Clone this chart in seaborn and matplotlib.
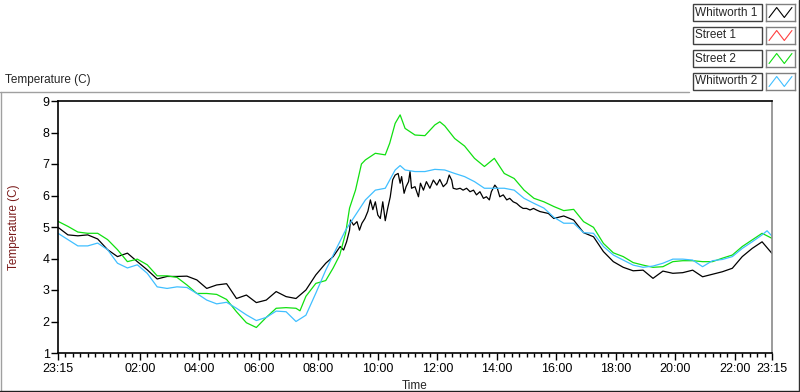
import matplotlib
matplotlib.use('Agg')
import matplotlib.pyplot as plt
from matplotlib.lines import Line2D
from matplotlib.patches import Rectangle
import pandas as pd
import seaborn as sns

# time axis is minutes after 23:15 (logging day runs 23:15 -> 23:15)
tick_minutes = [0, 165, 285, 405, 525, 645, 765, 885, 1005, 1125, 1245, 1365, 1440]
tick_labels = ['23:15', '02:00', '04:00', '06:00', '08:00', '10:00', '12:00',
               '14:00', '16:00', '18:00', '20:00', '22:00', '23:15']

series_names = ['Whitworth 1', 'Street 1', 'Street 2', 'Whitworth 2']
series_colors = ['#000000', '#ff4040', '#10e010', '#40bfff']

whitworth1_min = [0, 20, 40, 60, 80, 100, 120, 140, 160, 180, 200, 220, 240, 260, 280,
                  300, 320, 340, 360, 380, 400, 420, 440, 460, 480, 500, 520, 540, 555,
                  569, 576, 582, 588, 590, 596, 603, 608, 613, 619, 625, 630, 635, 640,
                  645, 650, 655, 660, 665, 670, 675, 680, 686, 690, 693, 698, 702, 707,
                  710, 713, 720, 727, 731, 737, 743, 750, 757, 764, 770, 777, 784, 789,
                  794, 797, 804, 811, 817, 824, 831, 838, 844, 851, 858, 864, 870, 874,
                  881, 886, 891, 898, 905, 911, 918, 925, 932, 938, 945, 952, 959, 965,
                  972, 989, 1000, 1020, 1040, 1060, 1080, 1100, 1120, 1140, 1160, 1180,
                  1200, 1220, 1240, 1260, 1280, 1300, 1320, 1340, 1360, 1380, 1400, 1420,
                  1440]
whitworth1_temp = [4.99, 4.75, 4.72, 4.75, 4.62, 4.28, 4.06, 4.17, 3.90, 3.64, 3.35, 3.43,
                   3.43, 3.44, 3.32, 3.05, 3.16, 3.20, 2.73, 2.84, 2.60, 2.68, 2.95, 2.79,
                   2.73, 3.00, 3.48, 3.85, 4.06, 4.38, 4.27, 4.53, 4.90, 5.22, 5.06, 5.17,
                   4.90, 5.12, 5.27, 5.50, 5.86, 5.55, 5.80, 5.38, 5.27, 5.80, 5.20, 5.60,
                   5.95, 6.50, 6.65, 6.70, 6.39, 6.60, 6.07, 6.28, 6.44, 6.76, 6.23, 6.28,
                   5.96, 6.39, 6.17, 6.44, 6.23, 6.49, 6.33, 6.51, 6.28, 6.39, 6.65, 6.49,
                   6.23, 6.20, 6.23, 6.17, 6.23, 6.12, 6.17, 6.02, 6.12, 5.91, 5.96, 5.86,
                   6.12, 6.33, 6.23, 5.96, 6.02, 5.86, 5.91, 5.80, 5.75, 5.65, 5.59, 5.59,
                   5.54, 5.59, 5.54, 5.49, 5.43, 5.27, 5.35, 5.22, 4.82, 4.69, 4.22, 3.90,
                   3.72, 3.61, 3.63, 3.37, 3.60, 3.53, 3.55, 3.63, 3.42, 3.50, 3.58, 3.69,
                   4.06, 4.32, 4.53, 4.16]

# Street 1 logged nothing that day, only its legend entry shows
street1_min = []
street1_temp = []

street2_min = [0, 20, 40, 60, 80, 100, 120, 140, 160, 180, 200, 220, 240, 260, 280, 300,
               320, 340, 360, 380, 400, 420, 440, 460, 480, 488, 500, 520, 540, 555, 568,
               580, 588, 600, 612, 620, 640, 660, 669, 680, 690, 700, 720, 740, 760, 770,
               780, 800, 820, 840, 860, 880, 900, 920, 940, 960, 980, 1000, 1020, 1040,
               1060, 1080, 1100, 1120, 1140, 1160, 1180, 1200, 1220, 1240, 1260, 1280,
               1300, 1320, 1340, 1360, 1380, 1400, 1420, 1440]
street2_temp = [5.18, 5.02, 4.84, 4.80, 4.80, 4.60, 4.28, 3.90, 3.98, 3.80, 3.45, 3.45,
                3.40, 3.16, 2.89, 2.89, 2.86, 2.70, 2.31, 1.96, 1.81, 2.13, 2.42, 2.44,
                2.42, 2.34, 2.80, 3.21, 3.30, 3.70, 4.10, 4.80, 5.60, 6.17, 7.00, 7.13,
                7.34, 7.29, 7.66, 8.29, 8.56, 8.13, 7.92, 7.90, 8.24, 8.34, 8.21, 7.81,
                7.57, 7.18, 6.92, 7.18, 6.70, 6.54, 6.17, 5.91, 5.80, 5.65, 5.52, 5.56,
                5.17, 4.99, 4.48, 4.18, 4.06, 3.87, 3.79, 3.72, 3.74, 3.90, 3.93, 3.93,
                3.90, 3.90, 4.01, 4.11, 4.38, 4.59, 4.80, 4.64]

whitworth2_min = [0, 20, 40, 60, 80, 100, 120, 140, 160, 180, 200, 220, 240, 260, 280,
                  300, 320, 340, 360, 380, 400, 420, 440, 460, 480, 500, 520, 540, 560,
                  580, 600, 620, 640, 660, 680, 690, 700, 720, 740, 760, 780, 800, 820,
                  840, 860, 880, 900, 920, 940, 960, 980, 1000, 1020, 1040, 1060, 1080,
                  1100, 1120, 1140, 1160, 1180, 1200, 1220, 1240, 1260, 1280, 1300, 1320,
                  1340, 1360, 1380, 1400, 1420, 1430, 1440]
whitworth2_temp = [4.80, 4.60, 4.40, 4.40, 4.49, 4.28, 3.85, 3.70, 3.80, 3.53, 3.10, 3.05,
                   3.10, 3.08, 2.89, 2.68, 2.56, 2.61, 2.42, 2.21, 2.03, 2.13, 2.33, 2.31,
                   2.00, 2.20, 2.90, 3.63, 4.27, 4.90, 5.38, 5.86, 6.17, 6.23, 6.81, 6.95,
                   6.81, 6.76, 6.76, 6.83, 6.81, 6.70, 6.60, 6.44, 6.23, 6.23, 6.23, 6.17,
                   5.91, 5.75, 5.60, 5.31, 5.12, 5.12, 4.82, 4.80, 4.38, 4.11, 3.95, 3.79,
                   3.72, 3.76, 3.85, 3.98, 3.98, 3.95, 3.74, 3.93, 3.97, 4.06, 4.32, 4.53,
                   4.75, 4.88, 4.71]

all_min = [whitworth1_min, street1_min, street2_min, whitworth2_min]
all_temp = [whitworth1_temp, street1_temp, street2_temp, whitworth2_temp]

sns.set_style('ticks')
plt.rcParams['font.family'] = ['Liberation Sans', 'DejaVu Sans']
plt.rcParams['font.size'] = 8

W, H = 800, 392
fig = plt.figure(figsize=(W / 100, H / 100), dpi=100)


def fx(px):
    return px / W


def fy(py):
    return 1 - py / H


ax = fig.add_axes([fx(58), fy(353), fx(772) - fx(58), fy(101) - fy(353)])

for name, mins, temps, col in zip(series_names, all_min, all_temp, series_colors):
    if len(mins) == 0:
        continue
    df = pd.DataFrame({'minutes': mins, 'temp': temps})
    sns.lineplot(data=df, x='minutes', y='temp', color=col, linewidth=0.9,
                 estimator=None, sort=False, ax=ax)

ax.set_xlim(0, 1440)
ax.set_ylim(1, 9)
ax.set_xticks(tick_minutes)
ax.set_xticklabels(tick_labels)
ax.set_xticks(range(0, 1441, 15), minor=True)
ax.set_yticks(range(1, 10))
ax.tick_params(axis='x', which='major', length=5, width=1, pad=2, colors='black')
ax.tick_params(axis='x', which='minor', length=3, width=1, colors='black')
ax.tick_params(axis='y', length=5, width=1, pad=1, colors='black')
for lab in ax.get_xticklabels() + ax.get_yticklabels():
    lab.set_fontsize(9)

ax.set_xlabel('Time', fontsize=8.5, labelpad=4)
ax.set_ylabel('Temperature (C)', fontsize=8.5, color='#7a1a1a', labelpad=16)
for side in ['left', 'top', 'bottom']:
    ax.spines[side].set_color('black')
    ax.spines[side].set_linewidth(1.2)
ax.spines['right'].set_color('#8a8a8a')
ax.spines['right'].set_linewidth(1.2)

# graph title above the plot
fig.text(fx(5), fy(80), 'Temperature (C)', fontsize=8.5, va='center', ha='left')

# panel frame lines
fig.add_artist(Line2D([0, fx(689)], [fy(92), fy(92)], color='#a0a0a0', lw=1))
fig.add_artist(Line2D([fx(0.5), fx(0.5)], [fy(92), fy(391)], color='#a0a0a0', lw=1))
fig.add_artist(Line2D([0, 1], [fy(390.5), fy(390.5)], color='#202020', lw=1))
fig.add_artist(Line2D([fx(798.5), fx(798.5)], [fy(0), fy(391)], color='#303030', lw=1))

# plot legend on the right top, one box per series
row_tops = [4, 27, 50, 73]
for name, col, top in zip(series_names, series_colors, row_tops):
    fig.add_artist(Rectangle((fx(693), fy(top + 17)), fx(762) - fx(693), fy(top) - fy(top + 17),
                             transform=fig.transFigure, facecolor='white',
                             edgecolor='#404040', lw=1))
    fig.text(fx(695), fy(top + 8.5), name, fontsize=8.5, va='center', ha='left')
    sw = fig.add_axes([fx(766), fy(top + 17), fx(795) - fx(766), fy(top) - fy(top + 17)])
    sw.plot([0, 1, 2, 3], [0, 1, 0, 1], color=col, lw=0.8)
    sw.set_xlim(-0.4, 3.4)
    sw.set_ylim(-0.35, 1.35)
    sw.set_xticks([])
    sw.set_yticks([])
    for s in sw.spines.values():
        s.set_color('#808080')
        s.set_linewidth(1)

fig.savefig('out.png', dpi=100)
